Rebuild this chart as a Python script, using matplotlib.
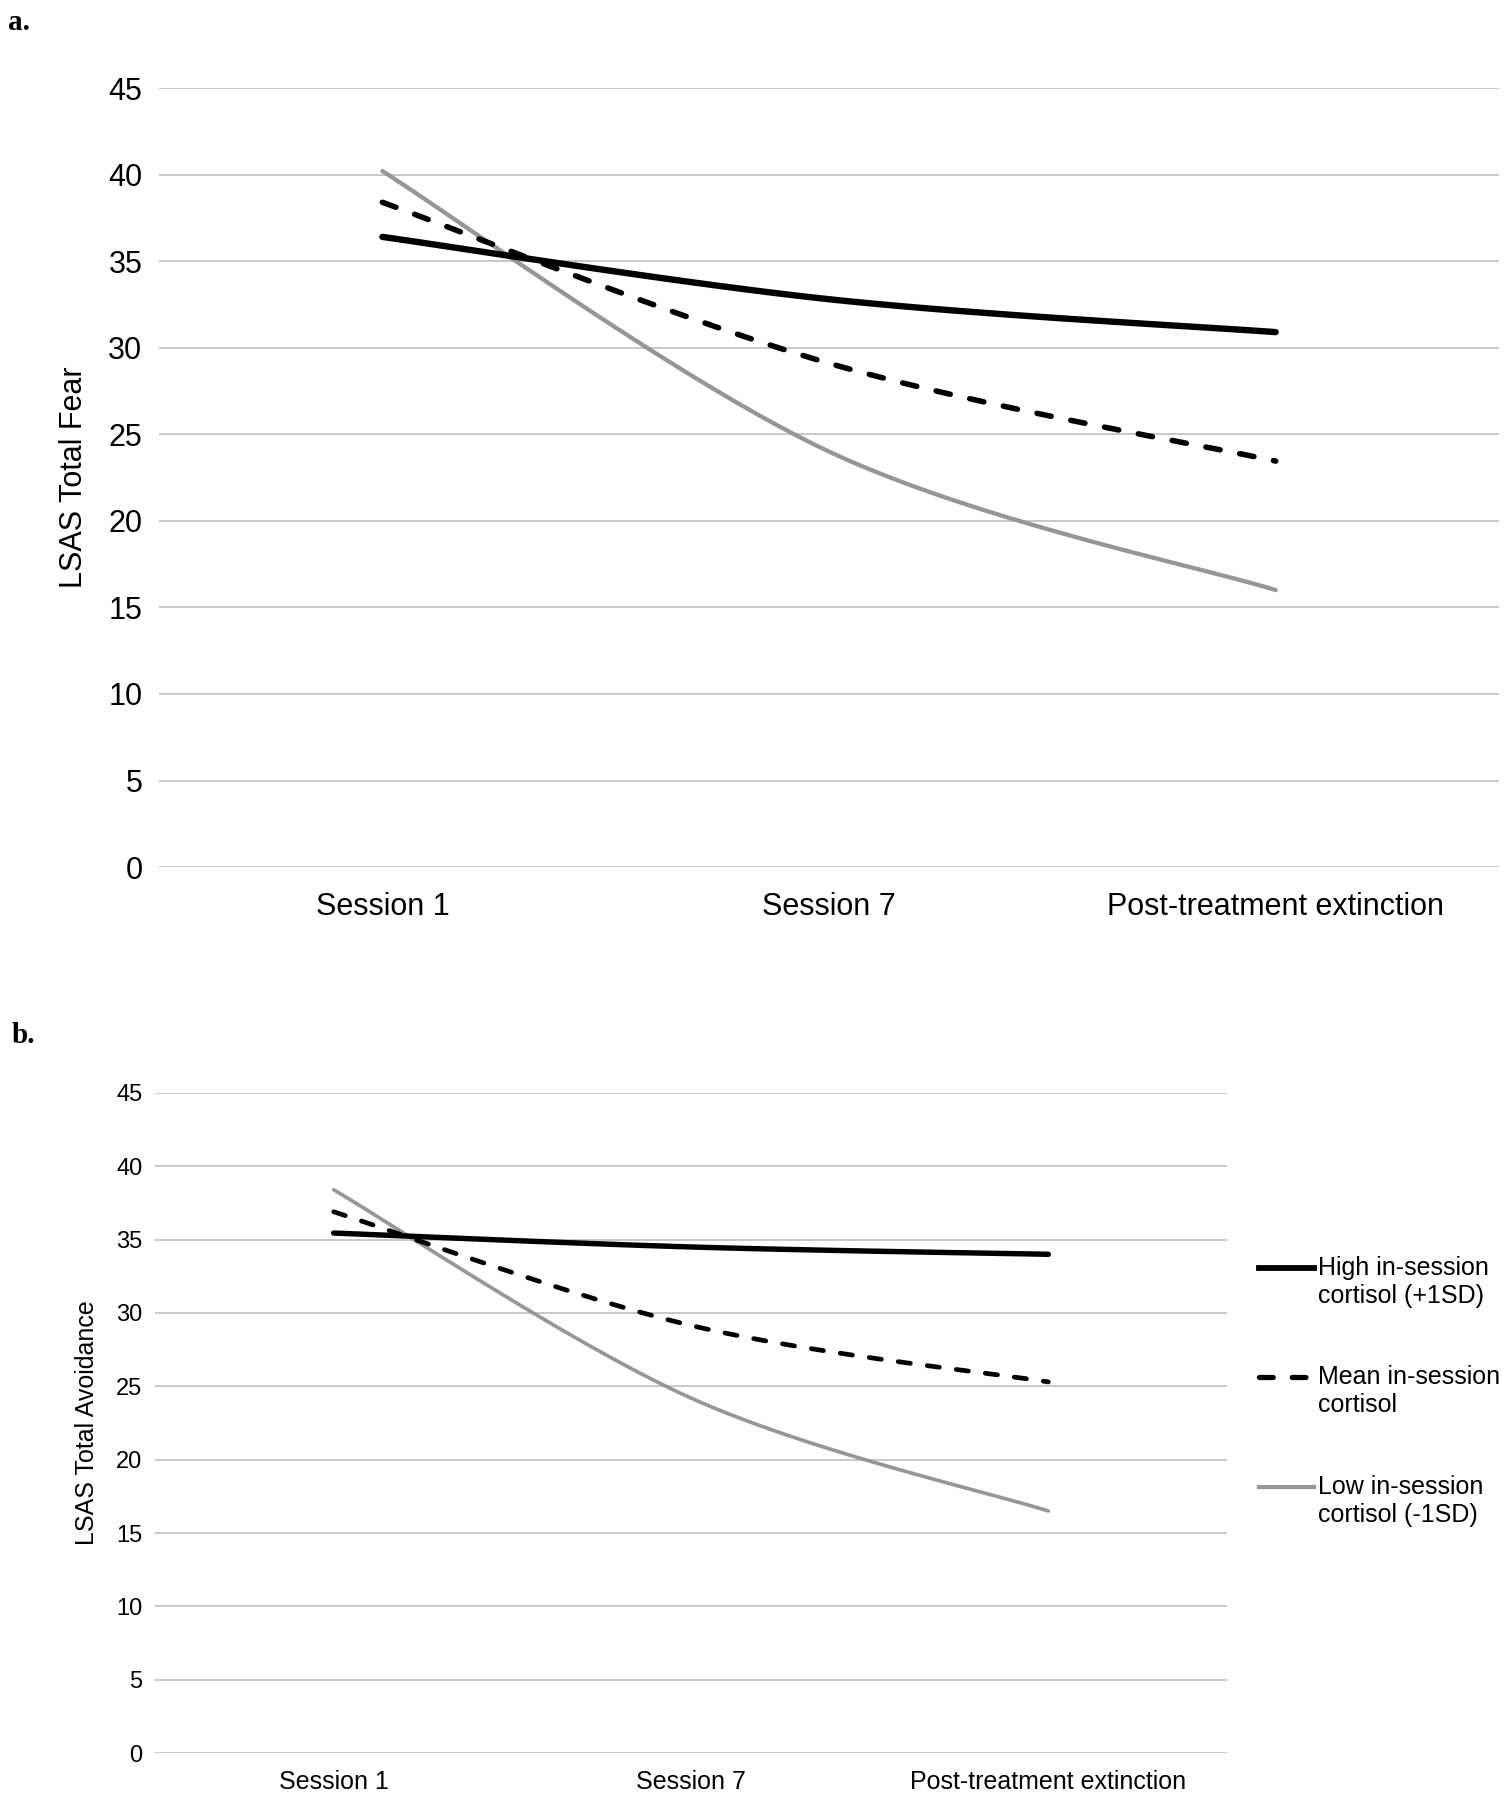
import numpy as np
import matplotlib
matplotlib.use('Agg')
import matplotlib.pyplot as plt
from matplotlib import font_manager
from matplotlib.lines import Line2D

plt.rcParams['font.family'] = ['Liberation Sans', 'DejaVu Sans']

# narrow face for panel b labels, if the system has it
try:
    font_manager.findfont('Liberation Sans Narrow', fallback_to_default=False)
    NARROW = ['Liberation Sans Narrow', 'Liberation Sans']
    NARROW_OK = True
except Exception:
    NARROW = ['Liberation Sans', 'DejaVu Sans']
    NARROW_OK = False

sessions = ['Session 1', 'Session 7', 'Post-treatment extinction']

# panel a: LSAS total fear
fear_high = [36.4, 32.8, 30.9]
fear_mean = [38.4, 29.1, 23.45]
fear_low = [40.2, 24.0, 16.0]

# panel b: LSAS total avoidance
avoid_high = [35.45, 34.5, 34.0]
avoid_mean = [36.9, 29.15, 25.3]
avoid_low = [38.4, 24.2, 16.5]

legend_labels = ['High in-session\ncortisol (+1SD)',
                 'Mean in-session\ncortisol',
                 'Low in-session\ncortisol (-1SD)']

yticks = list(range(0, 50, 5))

GRAY = '#969696'
GRID = '#c4c4c4'


def smooth(xs, ys, n=60):
    # excel style smoothed line: bezier segments, tangents from neighbours / 6
    xs = np.asarray(xs, float)
    ys = np.asarray(ys, float)
    px = np.concatenate([[xs[0]], xs, [xs[-1]]])
    py = np.concatenate([[ys[0]], ys, [ys[-1]]])
    outx, outy = [], []
    t = np.linspace(0, 1, n)
    for i in range(1, len(xs)):
        p0 = np.array([px[i], py[i]])
        p3 = np.array([px[i + 1], py[i + 1]])
        c1 = p0 + (np.array([px[i + 1], py[i + 1]]) - np.array([px[i - 1], py[i - 1]])) / 6
        c2 = p3 - (np.array([px[i + 2], py[i + 2]]) - np.array([px[i], py[i]])) / 6
        b = ((1 - t) ** 3)[:, None] * p0 + (3 * (1 - t) ** 2 * t)[:, None] * c1 \
            + (3 * (1 - t) * t ** 2)[:, None] * c2 + (t ** 3)[:, None] * p3
        outx.extend(b[:, 0])
        outy.extend(b[:, 1])
    return outx, outy


def draw_panel(ax, high, mean, low, lw_scale, tick_fs, xt_fs, xt_family, ylabel, yl_fs, yl_family,
               xpad, ypad, ylab_x):
    x = np.arange(len(sessions))
    for y in yticks:
        ax.axhline(y, color=GRID, lw=1.3, zorder=0)
    hx, hy = smooth(x, high)
    mx, my = smooth(x, mean)
    lx, ly = smooth(x, low)
    ax.plot(lx, ly, color=GRAY, lw=3.1 * lw_scale, solid_capstyle='round', zorder=3)
    ax.plot(hx, hy, color='black', lw=4.6 * lw_scale, solid_capstyle='round', zorder=4)
    ax.plot(mx, my, color='black', lw=4.0 * lw_scale, dash_capstyle='round',
            linestyle=(0, (2.6, 3.6)), zorder=4)
    ax.set_xlim(-0.5, len(sessions) - 0.5)
    ax.set_ylim(0, 45)
    ax.set_yticks(yticks)
    ax.set_xticks(x)
    ax.set_xticklabels(sessions, fontsize=xt_fs, family=xt_family)
    ax.tick_params(axis='y', length=0, labelsize=tick_fs, pad=ypad)
    ax.tick_params(axis='x', length=0, pad=xpad)
    for s in ax.spines.values():
        s.set_visible(False)
    ax.set_ylabel(ylabel, fontsize=yl_fs, family=yl_family)
    ax.yaxis.set_label_coords(ylab_x, 0.5)


fig = plt.figure(figsize=(15.12, 18), dpi=100)

ax1 = fig.add_axes([0.1052, 0.5183, 0.8862, 0.4328])
draw_panel(ax1, fear_high, fear_mean, fear_low, 1.0, 22, 22,
           ['Liberation Sans', 'DejaVu Sans'], 'LSAS Total Fear', 22,
           ['Liberation Sans', 'DejaVu Sans'], 18, 12, -0.052)

ax2 = fig.add_axes([0.1025, 0.0261, 0.709, 0.3667])
bfs = 21 if NARROW_OK else 18
draw_panel(ax2, avoid_high, avoid_mean, avoid_low, 0.85, 17, bfs, NARROW,
           'LSAS Total Avoidance', bfs, NARROW, 12, 9, -0.052)

fig.text(0.005, 0.995, 'a.', family=['Liberation Serif', 'DejaVu Serif'],
         fontweight='bold', fontsize=21, va='top', ha='left')
fig.text(0.008, 0.432, 'b.', family=['Liberation Serif', 'DejaVu Serif'],
         fontweight='bold', fontsize=21, va='top', ha='left')

# legend for panel b, drawn to the right of the axes
styles = [dict(color='black', lw=4.2),
          dict(color='black', lw=3.8, linestyle=(0, (2.6, 3.6)), dash_capstyle='round'),
          dict(color=GRAY, lw=3.0)]
leg_y = [1 - 1268 / 1800, 1 - 1377 / 1800, 1 - 1487 / 1800]
for lab, st, yy in zip(legend_labels, styles, leg_y):
    fig.add_artist(Line2D([1259 / 1512, 1314 / 1512], [yy, yy], transform=fig.transFigure, **st))
    fig.text(1318 / 1512, yy + 0.0068, lab, fontsize=18, va='top', ha='left', linespacing=1.2)

fig.savefig('out.png', dpi=100, facecolor='white')
